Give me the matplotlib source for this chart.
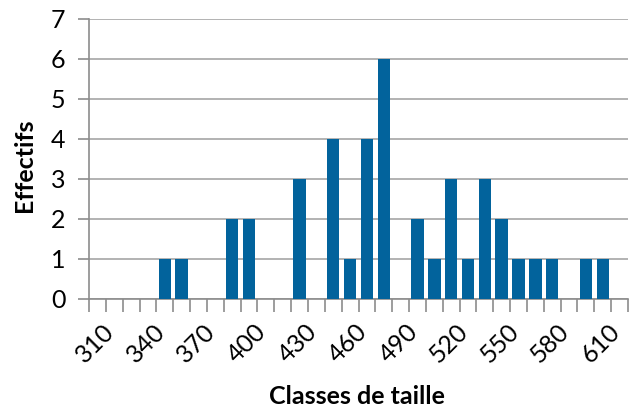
import matplotlib.pyplot as plt
import numpy as np

plt.rcParams['font.family'] = ['Lato', 'DejaVu Sans']

classes = list(range(310, 630, 10))
effectifs = [0, 0, 0, 0, 1, 1, 0, 0, 2, 2, 0, 0, 3, 0, 4, 1,
             4, 6, 0, 2, 1, 3, 1, 3, 2, 1, 1, 1, 0, 1, 1, 0]
label_every = 3

fig = plt.figure(figsize=(6.35, 4.09), dpi=100)
ax = fig.add_axes([89/635, 110/409, 539/635, 280/409])

x = np.arange(len(classes))
ax.bar(x, effectifs, width=0.74, color='#02639c', zorder=3)

ax.set_xlim(-0.5, len(classes) - 0.5)
ax.set_ylim(0, 7)
ax.set_yticks(range(0, 8))
ax.yaxis.grid(True, color='#a6a6a6', linewidth=1.2, zorder=0)

# labels in the middle of every third class, tick marks between classes
ax.set_xticks(x[::label_every] + 0.3)
ax.set_xticklabels([str(c) for c in classes[::label_every]], rotation=45,
                   ha='right', va='top', rotation_mode='anchor')
ax.set_xticks(np.arange(-0.5, len(classes), 1), minor=True)
ax.tick_params(axis='x', which='major', length=0, pad=15, labelsize=18)
ax.tick_params(axis='x', which='minor', length=9, color='#8c8c8c', width=1.2)
ax.tick_params(axis='y', length=8, color='#8c8c8c', width=1.2, labelsize=18, pad=9)

for side in ['top', 'right']:
    ax.spines[side].set_visible(False)
for side in ['left', 'bottom']:
    ax.spines[side].set_color('#8c8c8c')
    ax.spines[side].set_linewidth(1.2)

fig.text(357/635, 1 - 397/409, 'Classes de taille', fontsize=18,
         fontweight='bold', ha='center', va='center')
fig.text(24/635, 1 - 165/409, 'Effectifs', fontsize=18, fontweight='bold',
         rotation=90, ha='center', va='center')

fig.savefig('out.png', dpi=100)
